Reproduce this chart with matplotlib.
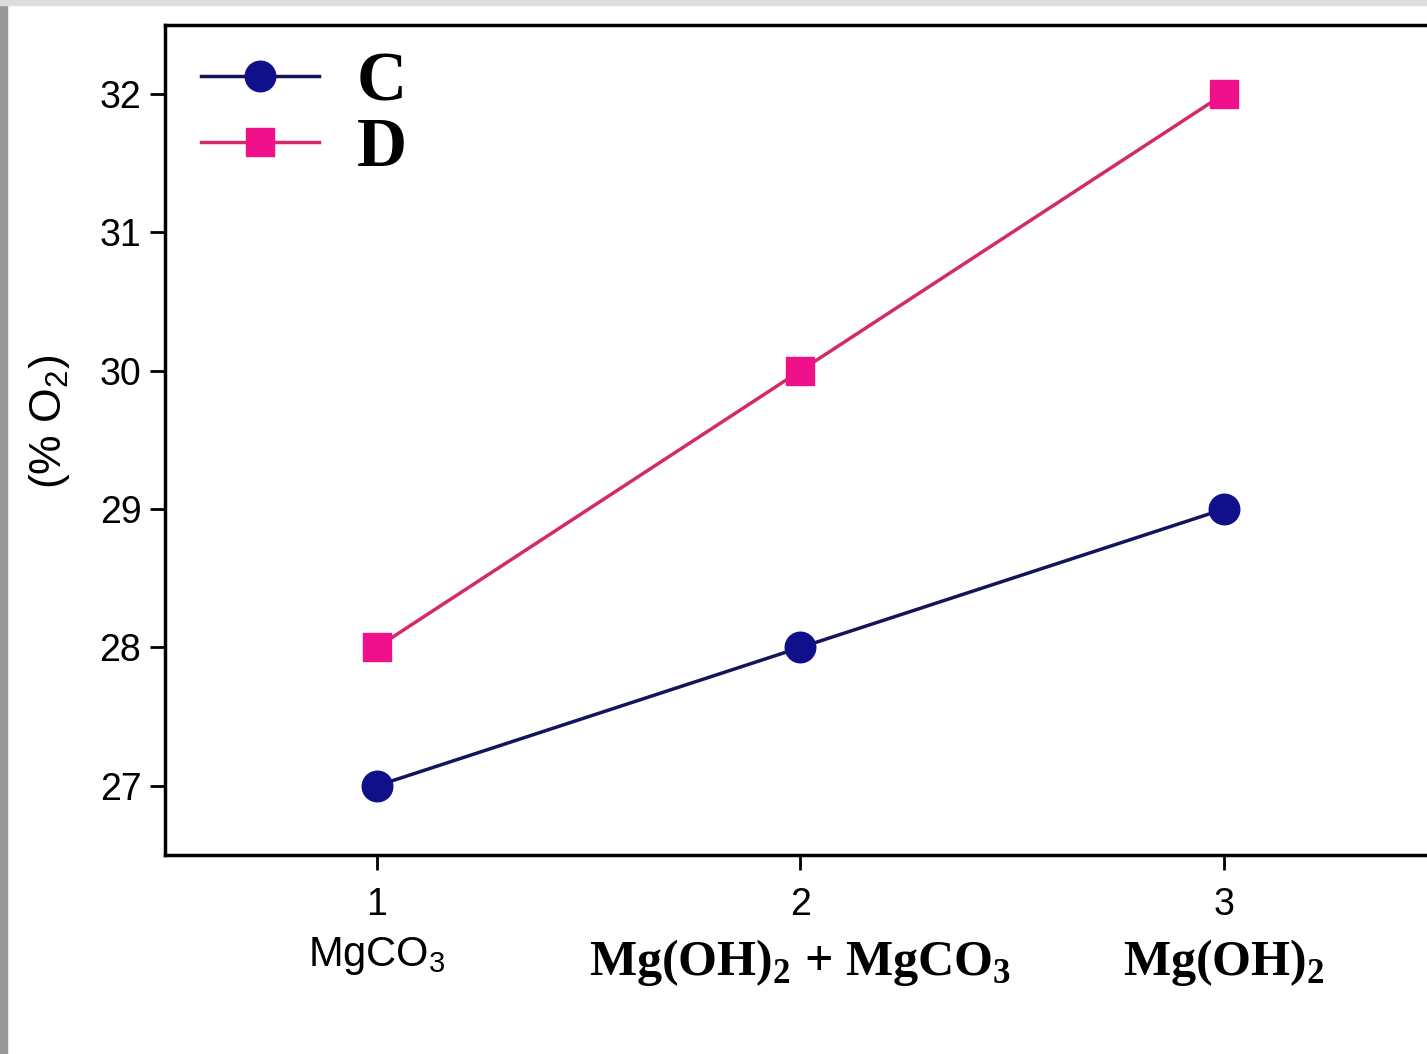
import matplotlib.pyplot as plt
from matplotlib.patches import Rectangle

plt.rcParams['mathtext.fontset'] = 'custom'
plt.rcParams['mathtext.rm'] = 'Liberation Sans'
plt.rcParams['mathtext.bf'] = 'Liberation Serif:bold'

x = [1, 2, 3]
series_c = [27, 28, 29]
series_d = [28, 30, 32]
fillers = ['MgCO$_\\mathrm{3}$', 'Mg(OH)$_\\mathbf{2}$ + MgCO$_\\mathbf{3}$', 'Mg(OH)$_\\mathbf{2}$']
filler_fonts = [('Liberation Sans', 'normal', 30), ('Liberation Serif', 'bold', 36), ('Liberation Serif', 'bold', 36)]

fig = plt.figure(figsize=(14.27, 10.54), dpi=100)
ax = fig.add_axes([0.1156, 0.1888, 0.8904, 0.7875])

ax.plot(x, series_c, color='#14145a', lw=2.5, marker='o', ms=22,
        mfc='#10108a', mec='#10108a', label='C')
ax.plot(x, series_d, color='#d42a6c', lw=2.5, marker='s', ms=20,
        mfc='#f0108a', mec='#f0108a', label='D')

ax.set_xlim(0.5, 3.5)
ax.set_ylim(26.5, 32.5)
ax.set_xticks(x)
ax.set_yticks([27, 28, 29, 30, 31, 32])
for s in ax.spines.values():
    s.set_linewidth(2.5)
ax.tick_params(axis='both', direction='out', length=11, width=2, labelsize=27)
ax.tick_params(axis='x', pad=12)
ax.tick_params(axis='y', pad=6)
for lab in ax.get_xticklabels() + ax.get_yticklabels():
    lab.set_fontfamily('Liberation Sans')

yoffs = [-0.122, -0.13, -0.13]
for xi, name, (fam, wt, sz), yo in zip(x, fillers, filler_fonts, yoffs):
    ax.annotate(name, xy=(xi, yo), xycoords=('data', 'axes fraction'),
                ha='center', va='center', family=fam, weight=wt, fontsize=sz,
                annotation_clip=False)

ax.set_ylabel('(% O$_\\mathrm{2}$)', fontsize=32, family='Liberation Sans')
ax.yaxis.set_label_coords(-0.073, 0.522)

leg = ax.legend(loc='upper left', bbox_to_anchor=(0.009, 0.997), frameon=False,
                prop={'family': 'Liberation Serif', 'weight': 'bold', 'size': 50},
                handlelength=1.7, labelspacing=0.02, handletextpad=0.55,
                borderaxespad=0.05, borderpad=0.3)

# grey frame along the left and top edges
fig.patches.append(Rectangle((0, 0), 7 / 1427, 1, transform=fig.transFigure,
                             color='#999999', zorder=0))
fig.patches.append(Rectangle((0, 1 - 5 / 1054), 1, 5 / 1054, transform=fig.transFigure,
                             color='#dddddd', zorder=0))

fig.savefig('out.png', dpi=100)
